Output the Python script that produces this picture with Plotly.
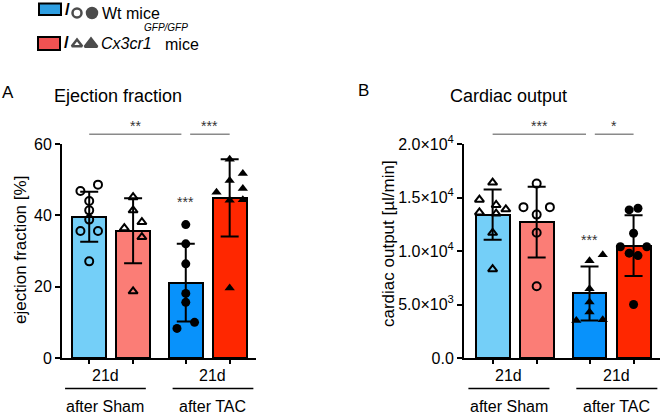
import plotly.graph_objects as go

W, H = 662, 414

# ---- data ----
group_labels = ['after Sham', 'after TAC']
time_label = '21d'

# ejection fraction [%] per animal
ef_wt_sham = [48.6, 46.8, 44.0, 41.4, 38.8, 35.6, 35.6, 27.1]
ef_ko_sham = [45.1, 41.4, 38.1, 36.4, 33.9, 18.7]
ef_wt_tac = [37.4, 32.0, 26.4, 18.1, 15.6, 10.0, 8.3]
ef_ko_tac = [55.7, 51.7, 49.8, 47.5, 46.5, 44.4, 44.2, 19.6]
ef_mean = [39.6, 35.7, 21.1, 44.9]
ef_sd = [7.0, 9.1, 10.9, 10.8]

# cardiac output [ul/min] per animal
co_sham_1 = [16400, 14800, 14300, 13900, 13600, 13500, 11700, 8300]
co_sham_2 = [16300, 14100, 14100, 13400, 11700, 6700]
co_tac_1 = [9640, 9100, 6470, 5230, 4290, 3570, 3510]
co_tac_2 = [14000, 13840, 11660, 10400, 10400, 9800, 9570, 5000]
co_mean = [13390, 12700, 6030, 10500]
co_sd = [2350, 3300, 2520, 2830]

ef_ticks = [0, 20, 40, 60]
co_ticks = [0, 5000, 10000, 15000, 20000]
co_ticktext = ['0.0', '5.0×10<sup>3</sup>', '1.0×10<sup>4</sup>',
               '1.5×10<sup>4</sup>', '2.0×10<sup>4</sup>']

# ---- layout / style ----
FONT = 'Liberation Sans, Arial, sans-serif'
bar_pos = [0, 1, 2.2, 3.2]
group_mid = [0.37, 2.82]
bar_colors = ['#74cff8', '#fb7d76', '#0892fb', '#ff2700']
jit = 0.2

# horizontal scatter columns of the dots (as drawn by the original)
ef_cols = [[1, -1, 0, 0, 0, -1, 1, 0],
           [0, 0, 1, -1, 1, 0],
           [0, 0, 0, 0, 0, 1, -1],
           [0, 1.5, 0, 1.5, -1.5, 1.5, 0, 0]]
co_cols = [[0, -1.5, 0.4, 1.5, -1.5, 0.4, 0, 0],
           [0, -1.5, 1.5, 0, 0, 0],
           [1.5, 0, 0, 0, 0, 1.5, -1.5],
           [0.5, -0.5, 0, -1.5, 1.5, -0.5, 0.5, 0]]

ef_symbols = ['circle-open', 'triangle-up-open', 'circle', 'triangle-up']
co_symbols = ['triangle-up-open', 'circle-open', 'triangle-up', 'circle']


def px(x):
    return x / W


def py(y):
    return 1 - y / H


fig = go.Figure()


def add_panel(xa, ya, means, sds, points, cols, symbols):
    fig.add_bar(x=bar_pos, y=means, width=0.77, xaxis=xa, yaxis=ya,
                marker=dict(color=bar_colors, line=dict(color='black', width=2)),
                error_y=dict(type='data', array=sds, visible=True, color='black', thickness=2, width=9),
                showlegend=False, hoverinfo='skip')
    for i, vals in enumerate(points):
        xs = [bar_pos[i] + c * jit for c in cols[i]]
        open_sym = symbols[i].endswith('open')
        fig.add_scatter(x=xs, y=vals, mode='markers', xaxis=xa, yaxis=ya, showlegend=False,
                        marker=dict(symbol=symbols[i], size=8 if open_sym else 9,
                                    color='black', line=dict(color='black', width=2 if open_sym else 0)),
                        cliponaxis=False)


add_panel('x', 'y', ef_mean, ef_sd, [ef_wt_sham, ef_ko_sham, ef_wt_tac, ef_ko_tac], ef_cols, ef_symbols)
add_panel('x2', 'y2', co_mean, co_sd, [co_sham_1, co_sham_2, co_tac_1, co_tac_2], co_cols, co_symbols)

# legend markers on a pixel overlay axis
fig.add_scatter(x=[77, 92, 77, 91], y=[13, 13, 44, 44], mode='markers', xaxis='x3', yaxis='y3',
                showlegend=False, hoverinfo='skip',
                marker=dict(symbol=['circle-open', 'circle', 'triangle-up-open', 'triangle-up'],
                            size=[9, 10, 9, 11], color='black', line=dict(color='black', width=2.5)))

ydom = [py(358), py(144)]
axis_common = dict(showline=True, linecolor='black', linewidth=2, showgrid=False, zeroline=False,
                   ticks='outside', tickcolor='black', tickwidth=2,
                   tickfont=dict(family=FONT, size=16, color='black'))
fig.update_layout(
    width=W, height=H, margin=dict(l=0, r=0, t=0, b=0, autoexpand=False),
    paper_bgcolor='white', plot_bgcolor='rgba(0,0,0,0)', bargap=0,
    font=dict(family=FONT, color='black'),
    xaxis=dict(domain=[px(62), px(256)], range=[-0.62, 3.8], anchor='y', tickvals=bar_pos,
               showticklabels=False, ticklen=4, **axis_common),
    yaxis=dict(domain=ydom, range=[0, 60], anchor='x', tickvals=ef_ticks, ticklen=5, **axis_common),
    xaxis2=dict(domain=[px(464), px(660)], range=[-0.65, 3.8], anchor='y2', tickvals=bar_pos,
                showticklabels=False, ticklen=4, **axis_common),
    yaxis2=dict(domain=ydom, range=[0, 20000], anchor='x2', tickvals=co_ticks, ticktext=co_ticktext,
                ticklen=5, **axis_common),
    xaxis3=dict(domain=[0, 1], range=[0, W], visible=False, anchor='y3', fixedrange=True),
    yaxis3=dict(domain=[0, 1], range=[H, 0], visible=False, anchor='x3', fixedrange=True),
)

shapes = []
ann = []


def text(x, y, s, size=16, xref='paper', yref='paper', xanchor='center', color='black', angle=0, italic=False):
    ann.append(dict(x=x, y=y, xref=xref, yref=yref, text=s, showarrow=False, xanchor=xanchor,
                    yanchor='middle', textangle=angle,
                    font=dict(family=FONT, size=size, color=color,
                              style='italic' if italic else 'normal')))


# legend
shapes.append(dict(type='rect', xref='paper', yref='paper', x0=px(39), x1=px(61), y0=py(15), y1=py(3.5),
                   fillcolor='#2f9fe2', line=dict(color='black', width=2)))
shapes.append(dict(type='rect', xref='paper', yref='paper', x0=px(38), x1=px(60), y0=py(50), y1=py(37),
                   fillcolor='#f05252', line=dict(color='black', width=2)))
text(px(63), py(10), '<b>/</b>', size=17, xanchor='left')
text(px(62), py(42), '<b>/</b>', size=17, xanchor='left')
text(px(100), py(13), 'Wt mice', size=16, xanchor='left')
text(px(99), py(43), 'Cx3cr1', size=16, xanchor='left', italic=True)
text(px(142), py(28), 'GFP/GFP', size=10, xanchor='left', italic=True)
text(px(163), py(44), 'mice', size=16, xanchor='left')

# panel letters and titles
text(px(8), py(92), 'A', size=17)
text(px(363), py(91), 'B', size=17)
text(px(118), py(96), 'Ejection fraction', size=18)
text(px(508), py(96), 'Cardiac output', size=18)

# y axis titles
text(px(20), py(250), 'ejection fraction [%]', size=17, angle=-90)
text(px(389), py(244), 'cardiac output [µl/min]', size=17, angle=-90)

# group labels below x axes
for xr in ['x', 'x2']:
    for g, mid in zip(group_labels, group_mid):
        text(mid, py(375), time_label, size=16, xref=xr)
        text(mid, py(406), g, size=16, xref=xr)
        shapes.append(dict(type='line', xref=xr, yref='paper', x0=mid - 0.92, x1=mid + 0.92,
                           y0=py(388.5), y1=py(388.5), line=dict(color='black', width=1.5)))

# significance
sig = [('x', [('**', 0, 2.1), ('***', 2.3, 3.2)], 199, '***'),
       ('x2', [('***', 0, 2.12), ('*', 2.32, 3.2)], 237, '***')]
for xr, pairs, star_y, star in sig:
    for s, a, b in pairs:
        shapes.append(dict(type='line', xref=xr, yref='paper', x0=a, x1=b, y0=py(134.3), y1=py(134.3),
                           line=dict(color='#8a8a8a', width=1.5)))
        text((a + b) / 2, py(126), s, size=14, xref=xr, color='#333333')
    text(bar_pos[2], py(star_y + 3), star, size=14, xref=xr, color='#333333')

fig.update_layout(shapes=shapes, annotations=ann)
fig.write_html('out.html', config={'displayModeBar': False},
               post_script="document.body.style.margin='0';")
